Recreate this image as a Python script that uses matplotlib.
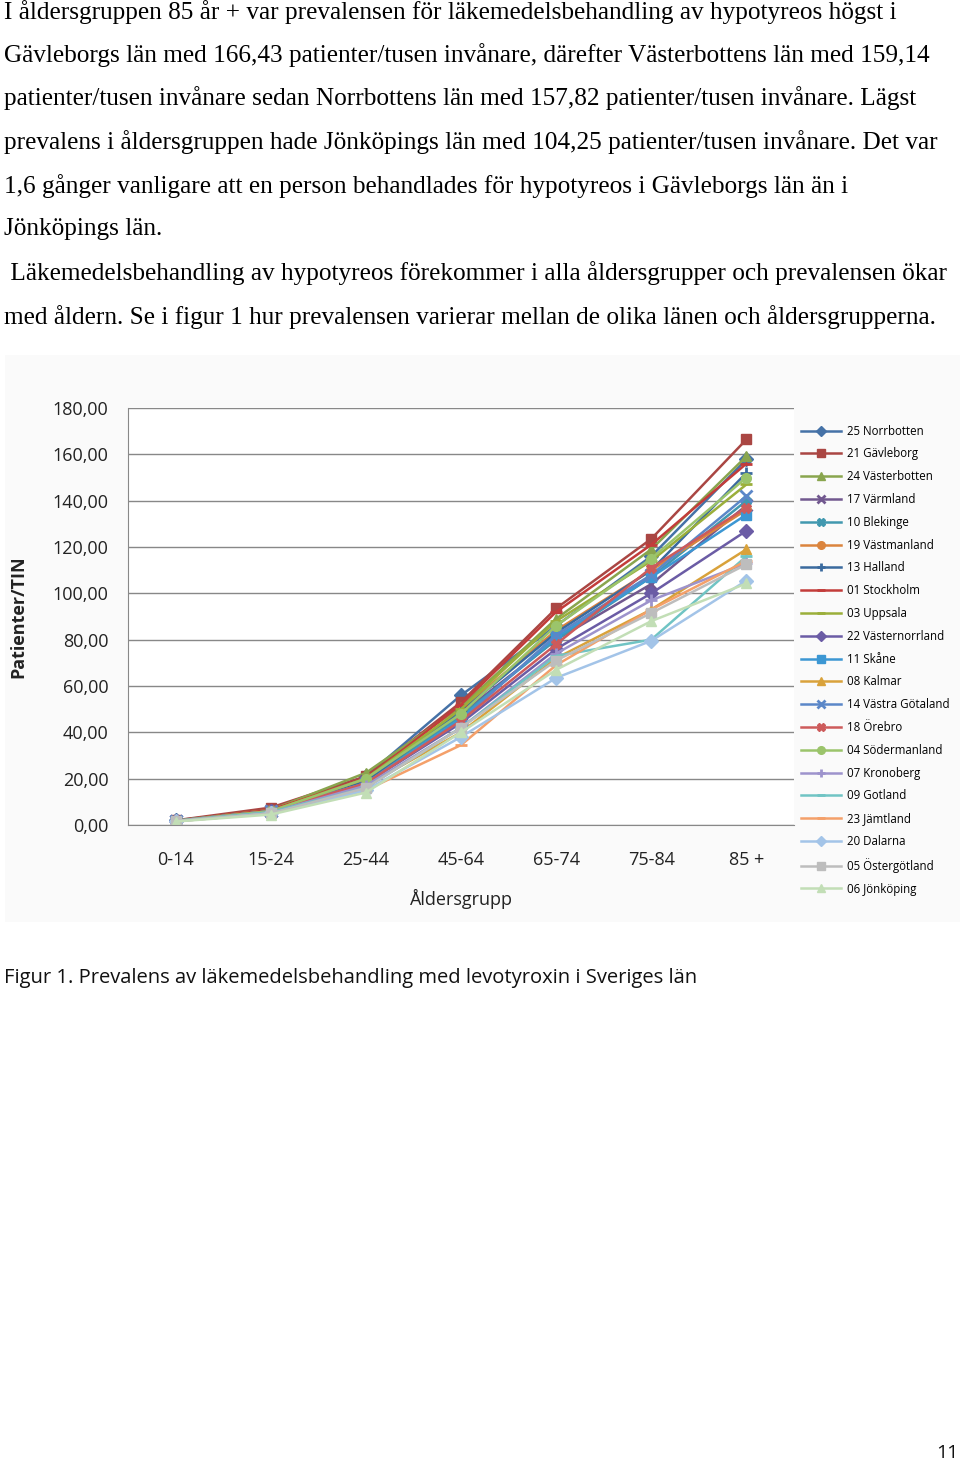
import matplotlib
matplotlib.use('Agg')
import matplotlib.pyplot as plt
from matplotlib.patches import Rectangle

# åldersgrupper
grupper = ['0-14', '15-24', '25-44', '45-64', '65-74', '75-84', '85 +']

# län i legendens ordning
lan = ['25 Norrbotten', '21 Gävleborg', '24 Västerbotten', '17 Värmland', '10 Blekinge',
       '19 Västmanland', '13 Halland', '01 Stockholm', '03 Uppsala', '22 Västernorrland',
       '11 Skåne', '08 Kalmar', '14 Västra Götaland', '18 Örebro', '04 Södermanland',
       '07 Kronoberg', '09 Gotland', '23 Jämtland', '20 Dalarna', '05 Östergötland',
       '06 Jönköping']

# patienter/tusen invånare
norrbotten = [2.0, 6.5, 21.0, 56.0, 86.0, 116.0, 157.82]
gavleborg = [2.0, 7.5, 21.0, 53.0, 93.5, 123.5, 166.43]
vasterbotten = [1.8, 6.5, 22.5, 51.0, 89.0, 119.0, 159.14]
varmland = [1.8, 6.0, 19.0, 48.0, 80.0, 104.0, 138.0]
blekinge = [1.8, 6.0, 19.0, 47.0, 80.0, 107.0, 140.0]
vastmanland = [1.8, 6.5, 20.0, 50.0, 84.0, 110.0, 136.0]
halland = [1.8, 6.0, 19.0, 49.0, 83.0, 110.0, 152.0]
stockholm = [1.8, 6.5, 20.0, 52.0, 92.0, 121.0, 156.0]
uppsala = [1.8, 6.0, 20.0, 50.0, 88.0, 114.0, 147.0]
vasternorrland = [1.8, 6.0, 18.0, 44.0, 76.0, 100.0, 127.0]
skane = [1.8, 6.0, 18.0, 46.0, 81.0, 107.0, 134.0]
kalmar = [1.7, 5.5, 17.0, 40.0, 72.0, 93.0, 119.0]
vastra_gotaland = [1.8, 6.0, 18.0, 45.0, 82.0, 108.0, 142.0]
orebro = [1.8, 6.0, 18.0, 45.0, 78.0, 111.0, 137.0]
sodermanland = [1.8, 6.0, 20.0, 48.0, 86.0, 115.0, 150.0]
kronoberg = [1.7, 5.5, 17.0, 42.0, 74.0, 97.0, 113.0]
gotland = [1.7, 5.5, 16.0, 42.0, 73.0, 80.0, 116.0]
jamtland = [1.6, 5.0, 15.0, 34.5, 69.0, 93.0, 114.0]
dalarna = [1.6, 5.0, 15.0, 38.0, 63.5, 79.5, 105.5]
ostergotland = [1.6, 5.0, 16.0, 42.0, 71.0, 91.5, 112.5]
jonkoping = [1.5, 4.5, 14.0, 40.0, 67.0, 88.0, 104.25]

serier = [norrbotten, gavleborg, vasterbotten, varmland, blekinge, vastmanland, halland,
          stockholm, uppsala, vasternorrland, skane, kalmar, vastra_gotaland, orebro,
          sodermanland, kronoberg, gotland, jamtland, dalarna, ostergotland, jonkoping]

farger = ['#4572A7', '#AA4643', '#89A54E', '#71588F', '#4198AF', '#DB843D', '#3A6A9E',
          '#C33C3A', '#9BAF3A', '#6B5CA5', '#3C97D3', '#D9A23B', '#5B87C8', '#CD5B5B',
          '#9BC46B', '#9D93CC', '#70C4C4', '#F4A06A', '#A3C4E8', '#BDBDBD', '#C2DEB6']
markorer = ['D', 's', '^', 'x', 'X', 'o', '+', '_', '_', 'D', 's', '^', 'x', 'X',
            'o', '+', '_', '_', 'D', 's', '^']

text = [
    'I åldersgruppen 85 år + var prevalensen för läkemedelsbehandling av hypotyreos högst i',
    'Gävleborgs län med 166,43 patienter/tusen invånare, därefter Västerbottens län med 159,14',
    'patienter/tusen invånare sedan Norrbottens län med 157,82 patienter/tusen invånare. Lägst',
    'prevalens i åldersgruppen hade Jönköpings län med 104,25 patienter/tusen invånare. Det var',
    '1,6 gånger vanligare att en person behandlades för hypotyreos i Gävleborgs län än i',
    'Jönköpings län.',
    ' Läkemedelsbehandling av hypotyreos förekommer i alla åldersgrupper och prevalensen ökar',
    'med åldern. Se i figur 1 hur prevalensen varierar mellan de olika länen och åldersgrupperna.',
]

W, H = 960, 1462
fig = plt.figure(figsize=(W / 100, H / 100), dpi=100)

# brödtext
rad_y = [12, 55, 98, 142, 186, 229, 273, 317]
for t, y in zip(text, rad_y):
    fig.text(4 / W, 1 - y / H, t, family='Liberation Serif', fontsize=18.2,
             va='center', ha='left')

# diagrammets bakgrund
fig.patches.append(Rectangle((5 / W, 1 - 922 / H), 955 / W, 567 / H,
                             transform=fig.transFigure, facecolor='#FAFAFA',
                             edgecolor='none', zorder=-5))

ax = fig.add_axes([128 / W, 1 - 825 / H, (794 - 128) / W, 417 / H])
ax.set_zorder(2)
ax.set_facecolor('white')
x = list(range(len(grupper)))
for namn, y, c, m in zip(lan, serier, farger, markorer):
    ms = 7
    mew = 1.0
    if m in ('x', '+', '_'):
        mew = 2.0
        ms = 8
    ax.plot(x, y, color=c, marker=m, markersize=ms, markeredgewidth=mew,
            markeredgecolor=c, linewidth=1.8, label=namn)

ax.set_xlim(-0.5, 6.5)
ax.set_ylim(0, 180)
ax.set_yticks(range(0, 181, 20))
ax.set_yticklabels([f'{v},00' for v in range(0, 181, 20)])
ax.set_xticks(x)
ax.set_xticklabels(grupper)
ax.grid(axis='y', color='#888888', linewidth=1.0)
ax.set_axisbelow(True)
for s in ['top', 'right']:
    ax.spines[s].set_visible(False)
ax.spines['left'].set_color('#888888')
ax.spines['bottom'].set_color('#888888')
ax.tick_params(length=0, labelsize=13, colors='#222222', pad=14)
ax.tick_params(axis='x', pad=19)
for lbl in ax.get_xticklabels() + ax.get_yticklabels():
    lbl.set_family('Open Sans')

ax.set_xlabel('Åldersgrupp', family='Open Sans', fontsize=13, color='#222222', labelpad=14)
fig.text(18 / W, 1 - 617 / H, 'Patienter/TIN', family='Open Sans', fontsize=13,
         fontweight='bold', rotation=90, va='center', ha='center', color='#222222')

leg = ax.legend(loc='upper left', bbox_to_anchor=(796 / W, 1 - 420 / H),
                bbox_transform=fig.transFigure, frameon=False,
                prop={'family': 'Open Sans', 'size': 8.3}, handlelength=3.5,
                handletextpad=0.5, labelspacing=0.85, borderaxespad=0)
for h in leg.legend_handles:
    h.set_markersize(5.5)

fig.text(4 / W, 1 - 978 / H,
         'Figur 1. Prevalens av läkemedelsbehandling med levotyroxin i Sveriges län',
         family='Open Sans', fontsize=14.5, va='center', ha='left', color='#111111')
fig.text(958 / W, 1 - 1453 / H, '11', family='Open Sans', fontsize=14,
         va='center', ha='right', color='#111111')

fig.savefig('out.png', dpi=100)
